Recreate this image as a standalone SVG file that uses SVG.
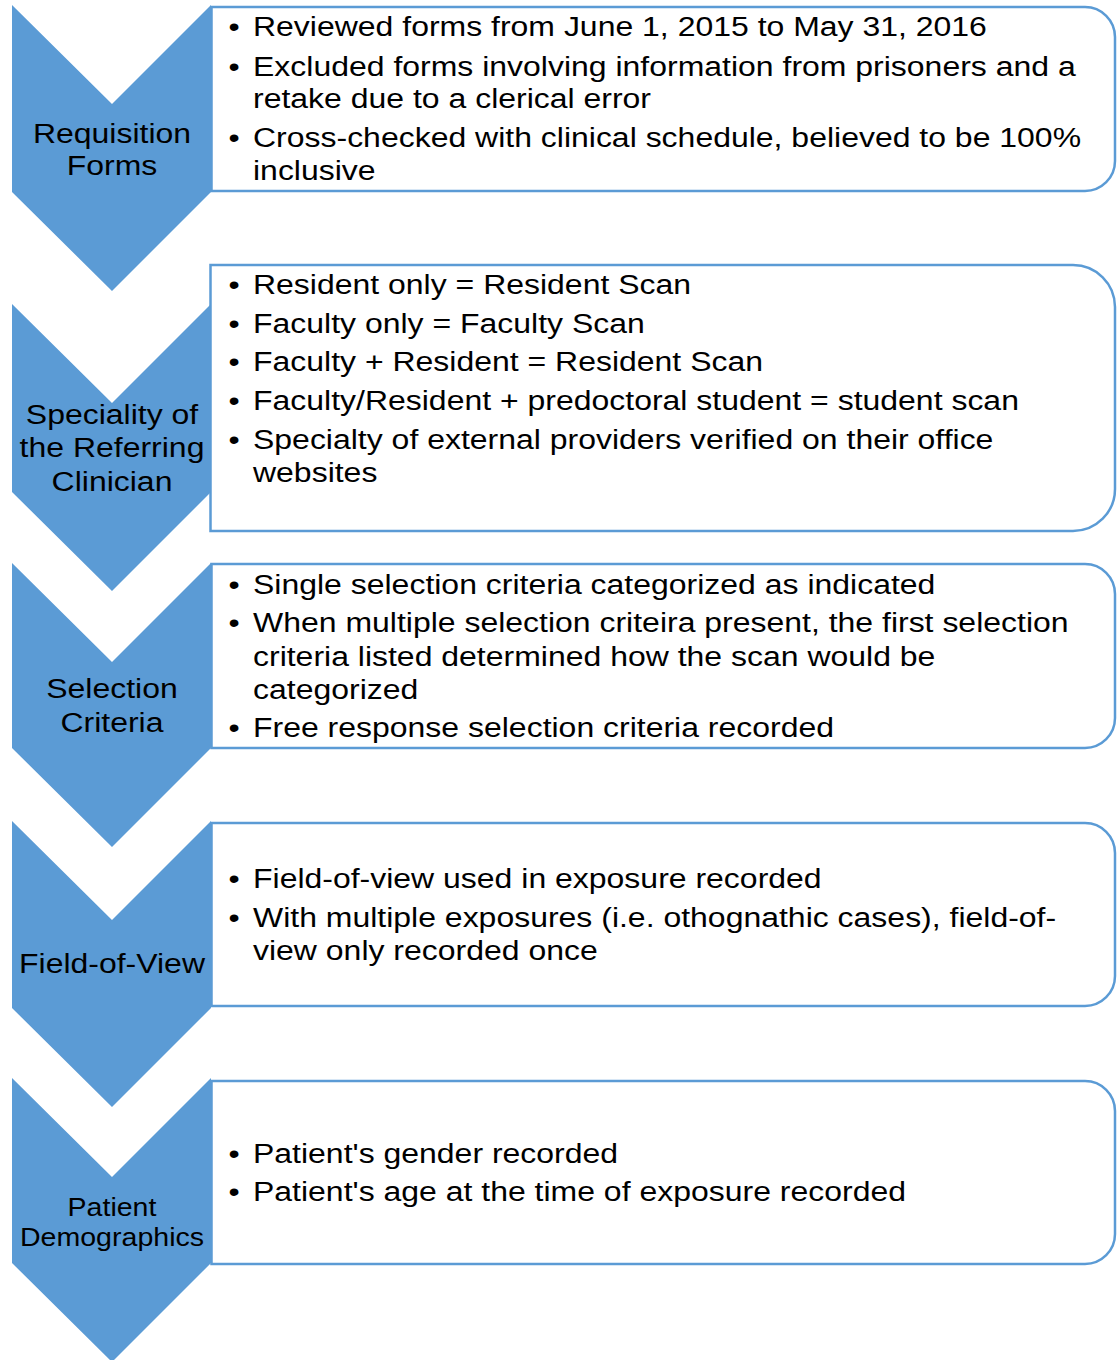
<svg xmlns="http://www.w3.org/2000/svg" width="1118" height="1360" viewBox="0 0 1118 1360">
<style>
.chev{fill:#5B9BD5;stroke:none}
.box{fill:#FFFFFF;stroke:#5B9BD5;stroke-width:2.5}
text{font-family:"Liberation Sans",Arial,sans-serif;font-size:28px;fill:#000000}
.lbl{text-anchor:middle}
.sm{font-size:25px}
.bul{text-anchor:middle}
</style>
<rect x="0" y="0" width="1118" height="1360" fill="#FFFFFF"/>
<g id="connectors"></g>

<g id="box1">
<path class="box" d="M211.5,7 H1085 A30,30 0 0 1 1115,37 V161 A30,30 0 0 1 1085,191 H211.5 Z"/>
<text class="bul" transform="matrix(1.142,0,0,1,234,36)">•</text>
<text transform="matrix(1.142,0,0,1,253,36)">Reviewed forms from June 1, 2015 to May 31, 2016</text>
<text class="bul" transform="matrix(1.142,0,0,1,234,75.5)">•</text>
<text transform="matrix(1.142,0,0,1,253,75.5)">Excluded forms involving information from prisoners and a</text>
<text transform="matrix(1.142,0,0,1,253,108)">retake due to a clerical error</text>
<text class="bul" transform="matrix(1.142,0,0,1,234,147)">•</text>
<text transform="matrix(1.142,0,0,1,253,147)">Cross-checked with clinical schedule, believed to be 100%</text>
<text transform="matrix(1.142,0,0,1,253,180)">inclusive</text>
</g>

<g id="box2">
<path class="box" d="M210.5,265 H1073 A42,42 0 0 1 1115,307 V489 A42,42 0 0 1 1073,531 H210.5 Z"/>
<text class="bul" transform="matrix(1.142,0,0,1,234,294)">•</text>
<text transform="matrix(1.142,0,0,1,253,294)">Resident only = Resident Scan</text>
<text class="bul" transform="matrix(1.142,0,0,1,234,333)">•</text>
<text transform="matrix(1.142,0,0,1,253,333)">Faculty only = Faculty Scan</text>
<text class="bul" transform="matrix(1.142,0,0,1,234,371)">•</text>
<text transform="matrix(1.142,0,0,1,253,371)">Faculty + Resident = Resident Scan</text>
<text class="bul" transform="matrix(1.142,0,0,1,234,410)">•</text>
<text transform="matrix(1.142,0,0,1,253,410)">Faculty/Resident + predoctoral student = student scan</text>
<text class="bul" transform="matrix(1.142,0,0,1,234,449)">•</text>
<text transform="matrix(1.142,0,0,1,253,449)">Specialty of external providers verified on their office</text>
<text transform="matrix(1.142,0,0,1,253,482)">websites</text>
</g>

<g id="box3">
<path class="box" d="M211.5,564 H1085 A30,30 0 0 1 1115,594 V718 A30,30 0 0 1 1085,748 H211.5 Z"/>
<text class="bul" transform="matrix(1.142,0,0,1,234,594)">•</text>
<text transform="matrix(1.142,0,0,1,253,594)">Single selection criteria categorized as indicated</text>
<text class="bul" transform="matrix(1.142,0,0,1,234,632)">•</text>
<text transform="matrix(1.142,0,0,1,253,632)">When multiple selection criteira present, the first selection</text>
<text transform="matrix(1.142,0,0,1,253,666)">criteria listed determined how the scan would be</text>
<text transform="matrix(1.142,0,0,1,253,699)">categorized</text>
<text class="bul" transform="matrix(1.142,0,0,1,234,737)">•</text>
<text transform="matrix(1.142,0,0,1,253,737)">Free response selection criteria recorded</text>
</g>

<g id="box4">
<path class="box" d="M211.5,823 H1085 A30,30 0 0 1 1115,853 V976 A30,30 0 0 1 1085,1006 H211.5 Z"/>
<text class="bul" transform="matrix(1.142,0,0,1,234,888)">•</text>
<text transform="matrix(1.142,0,0,1,253,888)">Field-of-view used in exposure recorded</text>
<text class="bul" transform="matrix(1.142,0,0,1,234,927)">•</text>
<text transform="matrix(1.142,0,0,1,253,927)">With multiple exposures (i.e. othognathic cases), field-of-</text>
<text transform="matrix(1.142,0,0,1,253,960)">view only recorded once</text>
</g>

<g id="box5">
<path class="box" d="M211.5,1081 H1085 A30,30 0 0 1 1115,1111 V1234 A30,30 0 0 1 1085,1264 H211.5 Z"/>
<text class="bul" transform="matrix(1.142,0,0,1,234,1163)">•</text>
<text transform="matrix(1.142,0,0,1,253,1163)">Patient's gender recorded</text>
<text class="bul" transform="matrix(1.142,0,0,1,234,1201)">•</text>
<text transform="matrix(1.142,0,0,1,253,1201)">Patient's age at the time of exposure recorded</text>
</g>

<g id="step1">
<polygon class="chev" points="12,5 112,104 211,5 211,192 112,291 12,192"/>
<text class="lbl" transform="matrix(1.142,0,0,1,112,143)">Requisition</text>
<text class="lbl" transform="matrix(1.142,0,0,1,112,175)">Forms</text>
</g>

<g id="step2">
<polygon class="chev" points="12,304 112,403 211,304 211,492 112,591 12,492"/>
<text class="lbl" transform="matrix(1.142,0,0,1,112,424)">Speciality of</text>
<text class="lbl" transform="matrix(1.142,0,0,1,112,457)">the Referring</text>
<text class="lbl" transform="matrix(1.142,0,0,1,112,491)">Clinician</text>
</g>

<g id="step3">
<polygon class="chev" points="12,563 112,662 211,563 211,748 112,847 12,748"/>
<text class="lbl" transform="matrix(1.142,0,0,1,112,698)">Selection</text>
<text class="lbl" transform="matrix(1.142,0,0,1,112,732)">Criteria</text>
</g>

<g id="step4">
<polygon class="chev" points="12,821 112,920 211,821 211,1008 112,1107 12,1008"/>
<text class="lbl" transform="matrix(1.142,0,0,1,112,973)">Field-of-View</text>
</g>

<g id="step5">
<polygon class="chev" points="12,1078 112,1177 211,1078 211,1263 112,1362 12,1263"/>
<text class="lbl sm" transform="matrix(1.142,0,0,1,112,1216)">Patient</text>
<text class="lbl sm" transform="matrix(1.142,0,0,1,112,1246)">Demographics</text>
</g>
</svg>
